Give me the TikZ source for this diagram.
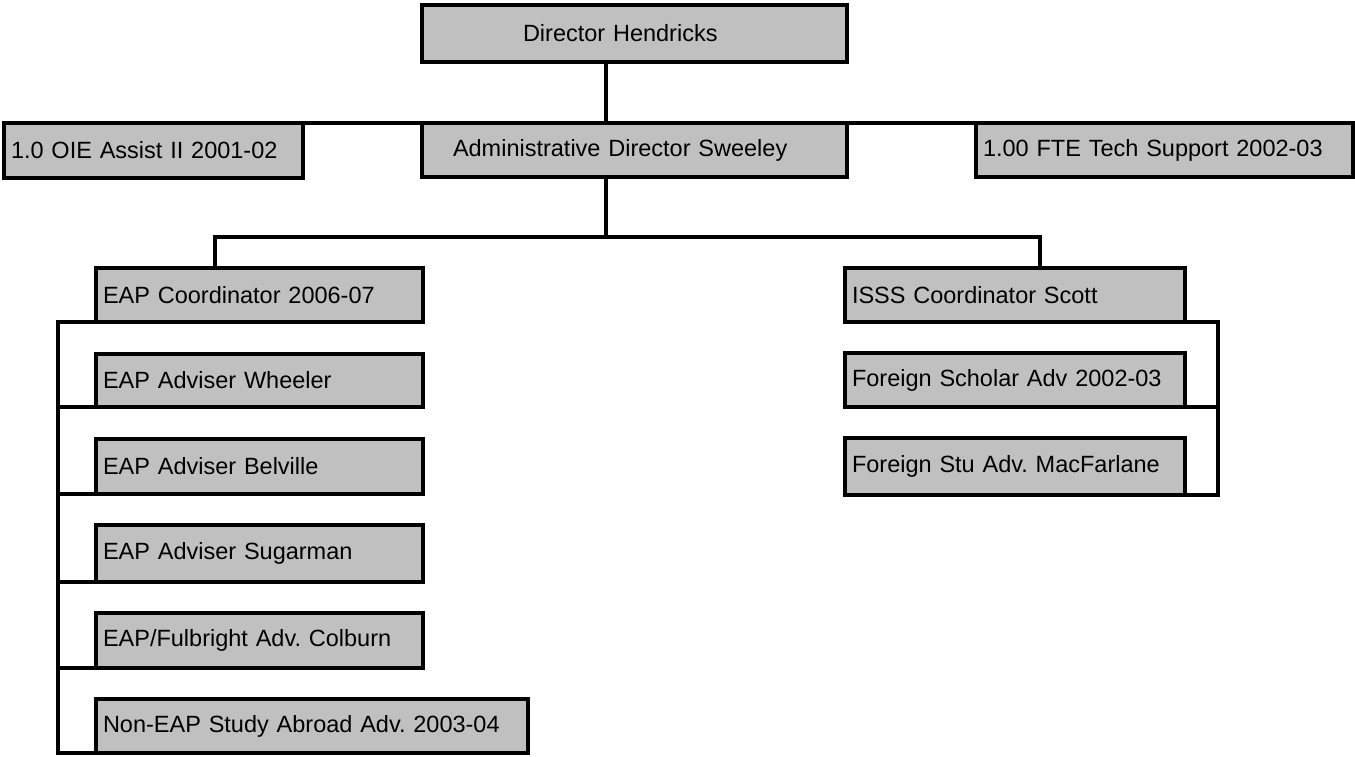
\documentclass[tikz,border=0pt]{standalone}
\usepackage{fontspec}
\setmainfont{Liberation Sans}
\definecolor{boxgray}{RGB}{192,192,192}
\frenchspacing
\begin{document}
\begin{tikzpicture}[x=1pt,y=-1pt,
  box/.style={draw=black, fill=boxgray, line width=3.3pt, rectangle, anchor=north west,
    inner xsep=7pt, inner ysep=0pt, outer sep=0pt, align=left,
    font=\fontsize{23.5}{28}\selectfont\frenchspacing},
  conn/.style={line width=3.3pt, line join=miter, line cap=rect}]
\useasboundingbox (0,0) rectangle (1355,756);
% top levels
\node[box, text width=411pt, minimum height=57pt] (dir) at (422,5) {\hspace*{94pt}Director Hendricks};
\node[box, text width=411pt, minimum height=54pt] (adm) at (422,123) {\hspace*{24pt}Administrative Director Sweeley};
\node[box, text width=285pt, minimum height=55pt] (oie) at (4,123) {1.0 OIE Assist II 2001-02};
\node[box, text width=363pt, minimum height=54pt] (tech) at (976,123) {1.00 FTE Tech Support 2002-03};
% left column
\node[box, text width=313pt, minimum height=54pt] (eapc) at (96,268) {EAP Coordinator 2006-07};
\node[box, text width=313pt, minimum height=53pt] (whe) at (96,354) {EAP Adviser Wheeler};
\node[box, text width=313pt, minimum height=55pt] (bel) at (96,439) {EAP Adviser Belville};
\node[box, text width=313pt, minimum height=57pt] (sug) at (96,525) {EAP Adviser Sugarman};
\node[box, text width=313pt, minimum height=55pt] (col) at (96,613) {EAP/Fulbright Adv. Colburn};
\node[box, text width=418pt, minimum height=54pt] (non) at (96,699) {Non-EAP Study Abroad Adv. 2003-04};
% right column
\node[box, text width=326pt, minimum height=54pt] (isss) at (845,268) {ISSS Coordinator Scott};
\node[box, text width=326pt, minimum height=54pt] (sch) at (845,353) {Foreign Scholar Adv 2002-03};
\node[box, text width=326pt, minimum height=57pt] (mac) at (845,438) {Foreign Stu Adv. MacFarlane};
% helper coordinates
\coordinate (bar) at (606,237);
\coordinate (lx) at (58,0);
\coordinate (rx) at (1218,0);
% connectors
\draw[conn] ([xshift=184pt]dir.south west) -- ([xshift=184pt]adm.north west);
\draw[conn] (oie.north east) -- (tech.north west);
\draw[conn] ([xshift=184pt]adm.south west) -- (bar);
\draw[conn] ([xshift=119pt]eapc.north west) |- (bar) -| ([xshift=195pt]isss.north west);
\draw[conn] (eapc.south west) -| (lx |- non.south west) -- (non.south west);
\foreach \n in {whe,bel,sug,col} \draw[conn] (\n.south west) -- (lx |- \n.south west);
\draw[conn] (isss.south east) -| (rx |- mac.south east) -- (mac.south east);
\draw[conn] (sch.south east) -- (rx |- sch.south east);
\end{tikzpicture}
\end{document}
